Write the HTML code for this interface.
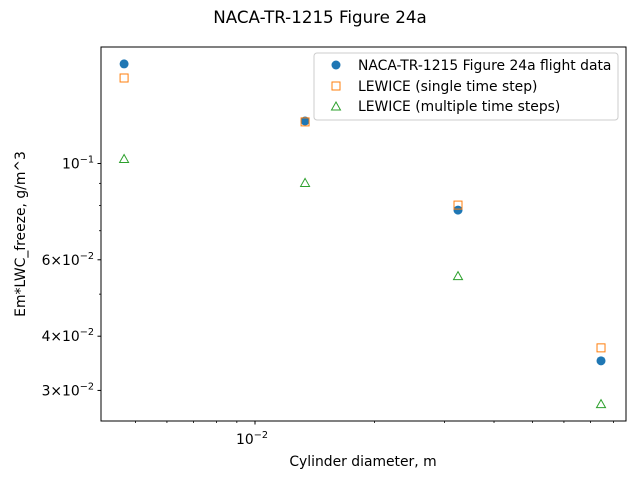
<!DOCTYPE html>
<html><head><meta charset="utf-8"><style>
body{margin:0;background:#fff}
svg text{font-family:"DejaVu Sans","Liberation Sans",sans-serif;fill:#000}
</style></head><body>
<svg id="chart" width="640" height="480" xmlns="http://www.w3.org/2000/svg">
<rect width="640" height="480" fill="#fff"/>
<text x="320" y="23" font-size="16.7" text-anchor="middle">NACA-TR-1215 Figure 24a</text>
<g id="ticks"></g>
<g id="marks"></g>
<rect x="101" y="47" width="525" height="374" fill="none" stroke="#000" stroke-width="1"/>
<text x="363" y="466" font-size="13.9" text-anchor="middle">Cylinder diameter, m</text>
<text transform="translate(25,234) rotate(-90)" font-size="13.9" text-anchor="middle">Em*LWC_freeze, g/m^3</text>
<g>
<rect x="314" y="53" width="304" height="67" rx="3" fill="#fff" fill-opacity="0.8" stroke="#ccc"/>
<g><circle cx="336" cy="65" r="4.5" fill="#1f77b4"/><text x="358" y="70" font-size="13.9">NACA-TR-1215 Figure 24a flight data</text></g>
<g><rect x="332" y="82" width="8" height="8" fill="none" stroke="#ff7f0e"/><text x="358" y="91" font-size="13.9">LEWICE (single time step)</text></g>
<g><path d="M336,102 L340.5,110 L331.5,110 Z" fill="none" stroke="#2ca02c"/><text x="358" y="111" font-size="13.9">LEWICE (multiple time steps)</text></g>
</g>
</svg>
<script>
const diameters=[0.00468,0.01337,0.03246,0.0744];
const flightData=[0.1696,0.1253,0.0781,0.0351];
const singleStep=[0.1574,0.1247,0.0802,0.0376];
const multiStep=[0.1024,0.0902,0.0550,0.0279];
const xMinorTicks=[0.005,0.006,0.007,0.008,0.009,0.02,0.03,0.04,0.05,0.06,0.07,0.08];
const yTickVals=[0.1,0.06,0.04,0.03];
const yTickLabels=[["10","−1"],["6×10","−2"],["4×10","−2"],["3×10","−2"]];
const yMinorTicks=[0.05,0.07,0.08,0.09];
const NS="http://www.w3.org/2000/svg";
const X=v=>255+397*(Math.log10(v)+2);
const Y=v=>163.5-434*(Math.log10(v)+1);
const tg=document.getElementById('ticks'),mg=document.getElementById('marks');
function mk(t,a,p){const e=document.createElementNS(NS,t);for(const k in a)e.setAttribute(k,a[k]);p.appendChild(e);return e;}
let l=mk('line',{x1:X(0.01),x2:X(0.01),y1:421,y2:424.5,stroke:'#000'},tg);


let t=mk('text',{x:X(0.01)-3,y:444,'font-size':13.9,'text-anchor':'middle'},tg);


t.innerHTML='10<tspan font-size="9.7" dy="-6">−2</tspan>';
xMinorTicks.forEach(v=>{const e=mk('line',{x1:X(v),x2:X(v),y1:421,y2:423,stroke:'#000','stroke-width':0.8},tg);

});
yTickVals.forEach((v,i)=>{const e=mk('line',{x1:97.5,x2:101,y1:Y(v),y2:Y(v),stroke:'#000'},tg);


const tx=mk('text',{x:94,y:Y(v)+5,'font-size':13.9,'text-anchor':'end'},tg);


tx.innerHTML=yTickLabels[i][0]+'<tspan font-size="9.7" dy="-6">'+yTickLabels[i][1]+'</tspan>';});
yMinorTicks.forEach(v=>{const e=mk('line',{x1:99,x2:101,y1:Y(v),y2:Y(v),stroke:'#000','stroke-width':0.8},tg);

});
diameters.forEach((d,i)=>{
const x=X(d);
let c=mk('circle',{cx:x,cy:Y(flightData[i]),r:4.5,fill:'#1f77b4'},mg);


let s=mk('rect',{x:x-4,y:Y(singleStep[i])-4,width:8,height:8,fill:'none',stroke:'#ff7f0e'},mg);


const y=Y(multiStep[i]);
let p=mk('path',{d:`M${x},${y-4.5} L${x+4.5},${y+3.5} L${x-4.5},${y+3.5} Z`,fill:'none',stroke:'#2ca02c'},mg);


});
</script>
</body></html>
